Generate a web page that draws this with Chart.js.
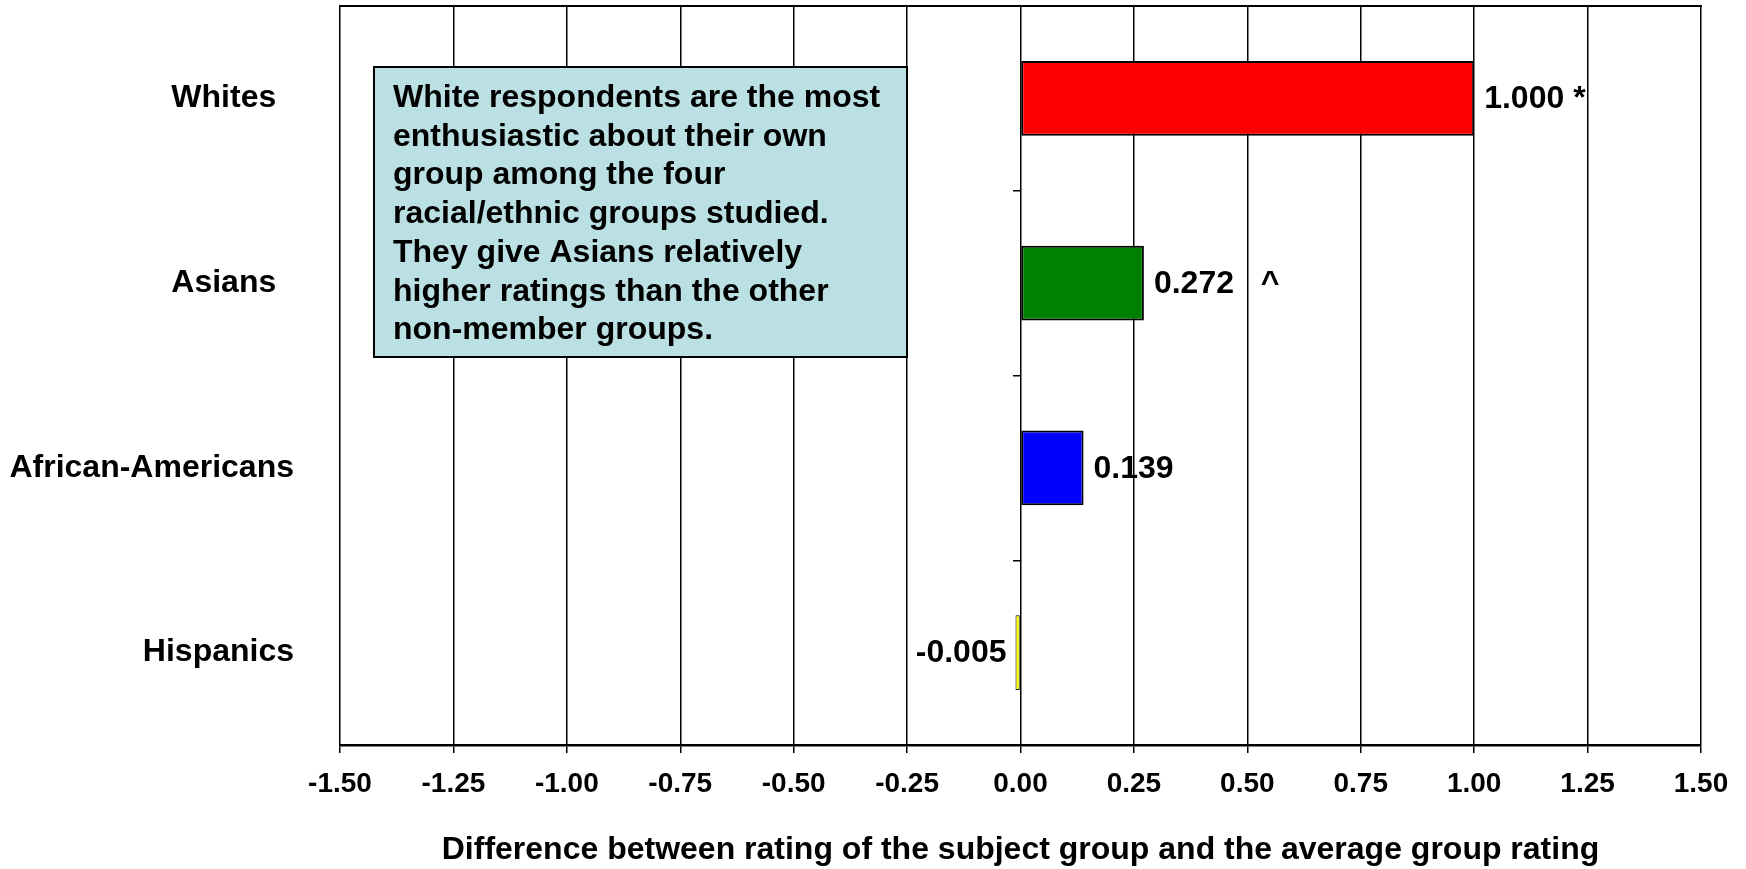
<!DOCTYPE html>
<html>
<head>
<meta charset="utf-8">
<title>Group rating difference</title>
<script src="https://cdn.jsdelivr.net/npm/chart.js@4.4.1/dist/chart.umd.min.js"></script>
<style>
  html, body { margin: 0; padding: 0; background: #fff; }
  #wrap { width: 1746px; height: 869px; position: relative; }
</style>
</head>
<body>
<div id="wrap"><canvas id="chart"></canvas></div>
<script>
// data
const groups = ["Whites  ", "Asians  ", "African-Americans", "Hispanics"];
const diffs = [1.000, 0.272, 0.139, -0.005];
const markers = [" *", "   ^", "", ""];
const barColors = ["#ff0000", "#008000", "#0000ff", "#ffff00"];
const xMin = -1.5, xMax = 1.5, xStep = 0.25;
const axisTitle = "Difference between rating of the subject group and the average group rating";
const noteLines = [
  "White respondents are the most",
  "enthusiastic about their own",
  "group among the four",
  "racial/ethnic groups studied.",
  "They give Asians relatively",
  "higher ratings than the other",
  "non-member groups.",
];

const FONT = "'Liberation Sans', Arial, sans-serif";

const valueLabels = {
  id: "valueLabels",
  afterDatasetsDraw(chart) {
    const ctx = chart.ctx;
    const meta = chart.getDatasetMeta(0);
    ctx.save();
    ctx.font = "bold 32px " + FONT;
    ctx.fillStyle = "#000";
    ctx.textBaseline = "middle";
    meta.data.forEach((bar, i) => {
      const v = diffs[i];
      const txt = v.toFixed(3) + markers[i];
      if (v >= 0) {
        ctx.textAlign = "left";
        ctx.fillText(txt, bar.x + 10, bar.y + 1);
      } else {
        ctx.textAlign = "right";
        ctx.fillText(txt, bar.x - 9, bar.y + 1);
      }
    });
    ctx.restore();
  },
};

const noteBox = {
  id: "noteBox",
  afterDraw(chart) {
    const ctx = chart.ctx;
    const left = 374, top = 67, right = 907, bottom = 357;
    ctx.save();
    ctx.fillStyle = "#bbe0e3";
    ctx.fillRect(left, top, right - left, bottom - top);
    ctx.lineWidth = 2;
    ctx.strokeStyle = "#000";
    ctx.strokeRect(left, top, right - left, bottom - top);
    ctx.font = "bold 32px " + FONT;
    ctx.fillStyle = "#000";
    ctx.textAlign = "left";
    ctx.textBaseline = "alphabetic";
    noteLines.forEach((line, i) => {
      ctx.fillText(line, 393, 107 + i * 38.7);
    });
    ctx.restore();
  },
};

new Chart(document.getElementById("chart"), {
  type: "bar",
  data: {
    labels: groups,
    datasets: [
      {
        data: diffs,
        backgroundColor: barColors,
        borderColor: "#000",
        borderWidth: (c) => (Math.abs(diffs[c.dataIndex]) < 0.02 ? 1 : 2),
        borderSkipped: false,
        barPercentage: 0.405,
        categoryPercentage: 1,
        minBarLength: 5,
      },
    ],
  },
  options: {
    indexAxis: "y",
    responsive: true,
    maintainAspectRatio: false,
    animation: false,
    layout: { padding: { top: 6, right: 45, bottom: 0, left: 0 } },
    plugins: {
      legend: { display: false },
      tooltip: { enabled: false },
    },
    scales: {
      x: {
        type: "linear",
        min: xMin,
        max: xMax,
        afterBuildTicks: (scale) => {
          const ticks = [];
          for (let v = xMin; v <= xMax + 1e-9; v += xStep) ticks.push({ value: +v.toFixed(2) });
          scale.ticks = ticks;
        },
        afterFit: (scale) => { scale.height = 124; },
        grid: { color: "#000", lineWidth: 1.5, tickLength: 8, drawTicks: true },
        border: { display: true, color: "#000", width: 2.5 },
        ticks: {
          color: "#000",
          font: { family: FONT, size: 28, weight: "bold" },
          padding: 14,
          maxRotation: 0,
          autoSkip: false,
          callback: (v) => Number(v).toFixed(2),
        },
        title: {
          display: true,
          text: axisTitle,
          color: "#000",
          font: { family: FONT, size: 32, weight: "bold" },
          padding: { top: 0, bottom: 0 },
        },
      },
      x2: {
        type: "linear",
        position: "top",
        axis: "x",
        afterFit: (scale) => { scale.height = 0; },
        grid: { display: false },
        ticks: { display: false },
        border: { display: true, color: "#000", width: 2 },
      },
      y: {
        type: "category",
        position: "left",
        afterFit: (scale) => {
          scale.width = 340;
          scale.paddingTop = 0;
          scale.paddingBottom = 0;
        },
        grid: { display: false },
        border: { display: false },
        ticks: {
          color: "#000",
          font: { family: FONT, size: 32, weight: "bold" },
          padding: 38,
        },
      },
      y2: {
        type: "category",
        axis: "y",
        position: { x: 0 },
        offset: true,
        grid: { display: true, offset: true, drawOnChartArea: false, drawTicks: true, tickLength: 8, color: "#000", lineWidth: 1.5 },
        border: { display: false },
        ticks: { display: false },
      },
    },
  },
  plugins: [valueLabels, noteBox],
});
</script>
</body>
</html>
